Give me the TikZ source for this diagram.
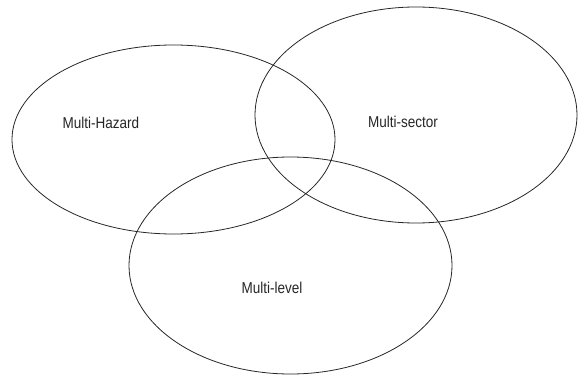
\documentclass[tikz,border=0pt]{standalone}
\usepackage{fontspec}
\setmainfont{Liberation Sans}
\begin{document}
\begin{tikzpicture}[x=1pt,y=1pt,
  ring/.style={draw=black!85,line width=0.8pt},
  lbl/.style={font=\fontsize{15}{17}\selectfont,text=black!85,inner sep=0pt}]
\useasboundingbox (0,0) rectangle (580,375);
\draw[ring] (173.5,235.5) ellipse [x radius=161.5,y radius=94.5];
\draw[ring] (416,260) ellipse [x radius=161,y radius=108];
\draw[ring] (290.5,109.5) ellipse [x radius=161.5,y radius=108.5];
\node[lbl] (hz) at (101,252) {\scalebox{0.9}[1.05]{Multi-Hazard}};
\node[lbl] (sc) at (403,253) {\scalebox{0.9}[1.05]{Multi-sector}};
\node[lbl] (lv) at (272,87) {\scalebox{0.9}[1.05]{Multi-level}};
\end{tikzpicture}
\end{document}
